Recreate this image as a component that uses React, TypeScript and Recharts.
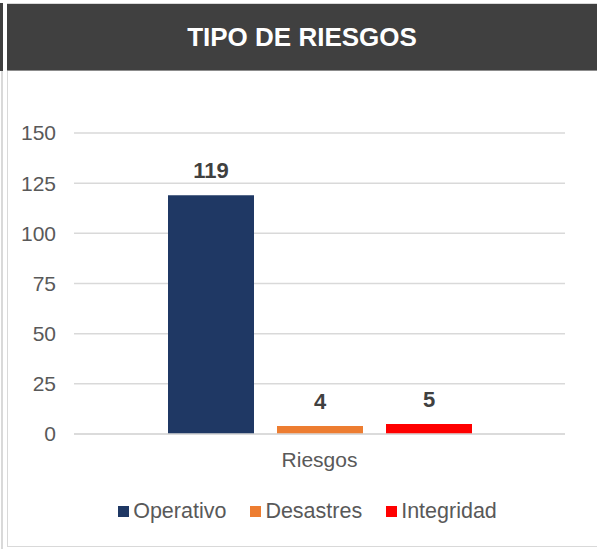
import { BarChart, Bar, XAxis, YAxis, CartesianGrid, LabelList } from 'recharts'

const categories = ['Riesgos']
const operativo = [119]
const desastres = [4]
const integridad = [5]
const yTicks = [0, 25, 50, 75, 100, 125, 150]

const SERIES = [
  { key: 'Operativo', values: operativo, color: '#1f3864' },
  { key: 'Desastres', values: desastres, color: '#ed7d31' },
  { key: 'Integridad', values: integridad, color: '#ff0000' },
]

const FONT = 'Arial, "Liberation Sans", sans-serif'

export default function App() {
  const data = categories.map((c, i) => {
    const row: Record<string, unknown> = { name: c }
    SERIES.forEach(s => { row[s.key] = s.values[i] })
    return row
  })

  return (
    <div style={{ position: 'absolute', left: 0, top: 0, width: 597, height: 549, background: '#fff', fontFamily: FONT, overflow: 'hidden' }}>
      {/* outer frame */}
      <div style={{ position: 'absolute', left: 0, top: 3, width: 3, height: 68, background: '#404040' }} />
      <div style={{ position: 'absolute', left: 1, top: 71, width: 2, height: 478, background: '#d9d9d9' }} />
      <div style={{ position: 'absolute', left: 7, top: 3, width: 600, height: 544, border: '1px solid #d9d9d9', boxSizing: 'border-box' }} />
      {/* header */}
      <div style={{
        position: 'absolute', left: 7, top: 4, width: 590, height: 67, background: '#404040',
        color: '#fff', fontWeight: 700, fontSize: 26, display: 'flex', alignItems: 'center', justifyContent: 'center',
        borderBottom: '1px solid #8c8c8c', boxSizing: 'border-box',
      }}>
        TIPO DE RIESGOS
      </div>

      <div style={{ position: 'absolute', left: 0, top: 0 }}>
        <BarChart width={597} height={549} data={data} barSize={86} barGap={23} barCategoryGap={0}
          margin={{ top: 133, right: 32, bottom: 75, left: 14 }}>
          <CartesianGrid vertical={false} stroke="#d9d9d9" strokeWidth={1.5} />
          <XAxis dataKey="name" axisLine={{ stroke: '#d9d9d9', strokeWidth: 1.5 }} tickLine={false} height={40}
            tick={{ fontSize: 21, fill: '#595959', fontFamily: FONT }} tickMargin={12} />
          <YAxis domain={[0, 150]} ticks={yTicks} width={60} axisLine={false} tickLine={false} interval={0}
            tick={{ fontSize: 21, fill: '#595959', fontFamily: FONT }} tickMargin={12} />
          {SERIES.map(s => (
            <Bar key={s.key} dataKey={s.key} fill={s.color} isAnimationActive={false}>
              <LabelList dataKey={s.key} position="top" offset={17}
                style={{ fontSize: 22, fontWeight: 700, fill: '#404040', fontFamily: FONT }} />
            </Bar>
          ))}
        </BarChart>
      </div>

      {/* legend */}
      <div style={{ position: 'absolute', left: 0, top: 499, width: 615, display: 'flex', justifyContent: 'center', gap: 24, fontSize: 21.5, color: '#595959' }}>
        {SERIES.map(s => (
          <div key={s.key} style={{ display: 'flex', alignItems: 'center' }}>
            <span style={{ display: 'inline-block', width: 11, height: 11, background: s.color, marginRight: 4 }} />
            <span>{s.key}</span>
          </div>
        ))}
      </div>
    </div>
  )
}
